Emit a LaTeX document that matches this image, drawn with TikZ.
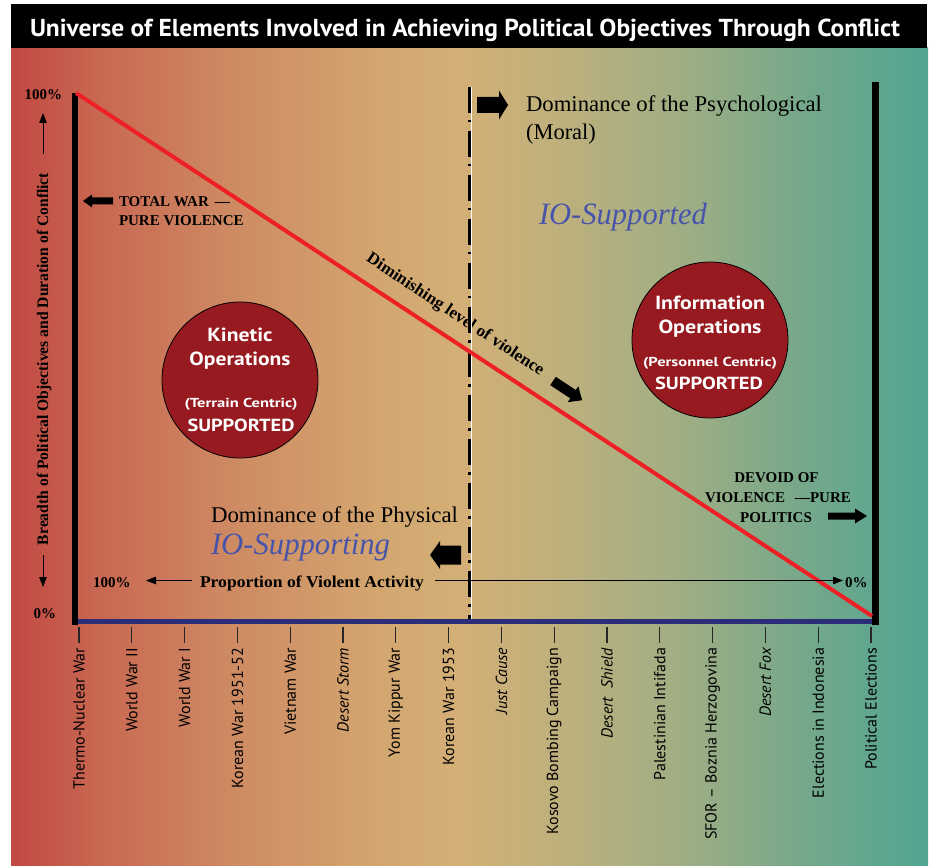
\documentclass[tikz,border=0pt]{standalone}
\usepackage{fontspec}
\usepackage{graphicx}
\setmainfont{Liberation Serif}
\newfontfamily\sansf{PT Sans}
\usetikzlibrary{arrows.meta}
\definecolor{g0}{RGB}{194,72,66}
\definecolor{g1}{RGB}{200,104,82}
\definecolor{g2}{RGB}{206,138,99}
\definecolor{g3}{RGB}{211,166,112}
\definecolor{g4}{RGB}{211,175,118}
\definecolor{g5}{RGB}{190,176,124}
\definecolor{g6}{RGB}{160,174,132}
\definecolor{g7}{RGB}{118,168,138}
\definecolor{g8}{RGB}{80,165,146}
\definecolor{redline}{RGB}{237,32,38}
\definecolor{navy}{RGB}{43,45,120}
\definecolor{ioblue}{RGB}{72,84,170}
\definecolor{circred}{RGB}{150,26,32}
\pgfdeclarehorizontalshading{bggrad}{100bp}{color(0bp)=(g0); color(25bp)=(g0); color(29.85bp)=(g1); color(36.94bp)=(g2); color(45.12bp)=(g3); color(49.48bp)=(g4); color(54.93bp)=(g5); color(61.48bp)=(g6); color(68.02bp)=(g7); color(75bp)=(g8); color(100bp)=(g8)}
\newcommand\fw[2]{\resizebox{#1pt}{\height}{#2}}
\newcommand\blockarrow[6]{%
  \begin{scope}[shift={#1},rotate=#2]
    \fill (0,-#4) -- ({#3-#6},-#4) -- ({#3-#6},-#5) -- (#3,0) -- ({#3-#6},#5) -- ({#3-#6},#4) -- (0,#4) -- cycle;
  \end{scope}}
\begin{document}
\begin{tikzpicture}[x=1pt,y=-1pt,
  every node/.style={inner sep=0pt, outer sep=0pt},
  tick/.style={line width=1.1pt, black!85},
  ticklabel/.style={rotate=90, anchor=east, font=\sansf\fontsize{16}{16}\selectfont},
  capsb/.style={font=\bfseries\fontsize{15}{15}\selectfont},
  domin/.style={font=\fontsize{22.5}{22.5}\selectfont, anchor=base west},
  iotext/.style={font=\itshape\fontsize{31}{31}\selectfont, text=ioblue, anchor=base west},
  circlebox/.style={circle, fill=circred, draw=black, line width=0.8pt, minimum size=156pt},
  ctext/.style={text=white, anchor=base, font=\sansf\bfseries\fontsize{19}{19}\selectfont},
  csmall/.style={text=white, anchor=base, font=\sansf\bfseries\fontsize{13}{13}\selectfont},
  csup/.style={text=white, anchor=base, font=\sansf\bfseries\fontsize{17.5}{17.5}\selectfont},
  thinarrow/.style={line width=1pt, -{Triangle[length=10pt,width=7.5pt]}},
]
\useasboundingbox (0,0) rectangle (931,866);
\fill[white] (0,0) rectangle (931,866);
\shade[shading=bggrad] (11,48) rectangle (928,866);
\fill[black] (11,4) rectangle (927,48);
\node[anchor=base, text=white, font=\sansf\bfseries\fontsize{24.5}{24.5}\selectfont] (title) at (465,37)
  {\fw{870}{Universe of Elements Involved in Achieving Political Objectives Through Conflict}};

% ticks and labels
\foreach \i in {0,...,15} \draw[tick] ({79+52.8*\i},627) -- ++(0,16);
\foreach \i/\t in {0/{Thermo-Nuclear War},1/{World War II},2/{World War I},3/{Korean War 1951-52},
  4/{Vietnam War},5/{\itshape Desert Storm},6/{Yom Kippur War},7/{Korean War 1953},
  8/{\itshape Just Cause},9/{Kosovo Bombing Campaign},10/{\itshape Desert \ Shield},
  11/{Palestinian Intifada},12/{SFOR – Boznia Herzogovina},13/{\itshape Desert Fox},
  14/{Elections in Indonesia},15/{Political Elections}}
  \node[ticklabel] (lab\i) at ({79+52.8*\i},648) {\t};

% circles
\node[circlebox] (kin) at (240,380) {};
\node[ctext] (kin1) at (240,342) {\fw{65}{Kinetic}};
\node[ctext] (kin2) at (240,366) {\fw{101}{Operations}};
\node[csmall] (kin3) at (241,407) {\fw{113}{(Terrain Centric)}};
\node[csup] (kin4) at (241,431) {\fw{107}{SUPPORTED}};
\node[circlebox] (inf) at (710,340) {};
\node[ctext] (inf1) at (710,310) {\fw{110}{Information}};
\node[ctext] (inf2) at (710,334) {\fw{103}{Operations}};
\node[csmall] (inf3) at (710,366) {\fw{134}{(Personnel Centric)}};
\node[csup] (inf4) at (709,389) {\fw{108}{SUPPORTED}};

% diagonal text
\node[rotate=-33.4, font=\bfseries\fontsize{17}{17}\selectfont] (dim) at (455,315) {\fw{209}{Diminishing level of violence}};
\blockarrow{(553,381)}{-33.4}{35}{5}{9.5}{11}

% dashed divider
\coordinate (dtop) at (469.6,87);
\coordinate (dbot) at (469.6,619);
\draw[white, line width=0.8pt] ([xshift=1.8pt]dtop) -- ([xshift=1.8pt]dbot);
\draw[black, line width=2.4pt, dash pattern=on 26pt off 7pt on 2.5pt off 8.5pt] (dtop) -- (dbot);

% axes
\draw[navy, line width=5pt] (78,621) -- (872,621);
\draw[black, line width=6pt] (75,93) -- (75,625);
\draw[black, line width=7pt] (875,82) -- (875,625);
\coordinate (rtop) at (76,93);
\coordinate (rbot) at (872,616);
\draw[redline, line width=4pt] (rtop) -- (rbot);

% y axis
\node[capsb, anchor=base east] (p100) at (62,99.5) {100\%};
\node[capsb, anchor=base east] (p0) at (56,618) {0\%};
\node[rotate=90, anchor=base, font=\bfseries\fontsize{16}{16}\selectfont] (ylab) at (48,359)
  {\fw{372}{Breadth of Political Objectives and Duration of Conflict}};
\coordinate (ua) at (43,154); \coordinate (ub) at (43,113);
\coordinate (da) at (43,555); \coordinate (db) at (43,587);
\draw[thinarrow] (ua) -- (ub);
\draw[thinarrow] (da) -- (db);

% proportion line
\node[capsb, anchor=base west] (h100) at (93,587) {100\%};
\node[anchor=base west, font=\bfseries\fontsize{16.5}{16.5}\selectfont] (prop) at (200,587) {\fw{224}{Proportion of Violent Activity}};
\node[capsb, anchor=base west] (h0) at (845,587) {0\%};
\coordinate (pl) at (192,580.5); \coordinate (plt) at (146,580.5);
\coordinate (pr) at (435,580.5); \coordinate (prt) at (843,580.5);
\draw[thinarrow] (pl) -- (plt);
\draw[thinarrow] (pr) -- (prt);

% total war
\blockarrow{(113,201)}{180}{30}{3.5}{6.5}{9}
\node[capsb, anchor=base west] (tw) at (119,207) {TOTAL WAR\hspace{6pt}—};
\node[capsb, anchor=base west] (pv) at (119,226) {PURE VIOLENCE};

% devoid
\node[capsb, anchor=base] (dv1) at (776.5,482) {DEVOID OF};
\node[capsb, anchor=base west] (dv2) at (705,502) {VIOLENCE\hspace{10pt}—PURE};
\node[capsb, anchor=base] (dv3) at (776,522) {POLITICS};
\blockarrow{(828,516)}{0}{39}{3.5}{7.5}{12}

% dominance texts
\blockarrow{(477,105)}{0}{31}{8}{14.5}{9}
\node[domin] (psy) at (526,112) {\fw{296}{Dominance of the Psychological}};
\node[domin] (mor) at (526,140) {(Moral)};
\node[iotext] (ios) at (539,225) {\fw{168}{IO-Supported}};
\node[domin] (phy) at (211,522) {\fw{247}{Dominance of the Physical}};
\node[iotext] (iosg) at (211,554) {\fw{179}{IO-Supporting}};
\blockarrow{(461,555)}{180}{31}{9.5}{14}{10}
\end{tikzpicture}
\end{document}
